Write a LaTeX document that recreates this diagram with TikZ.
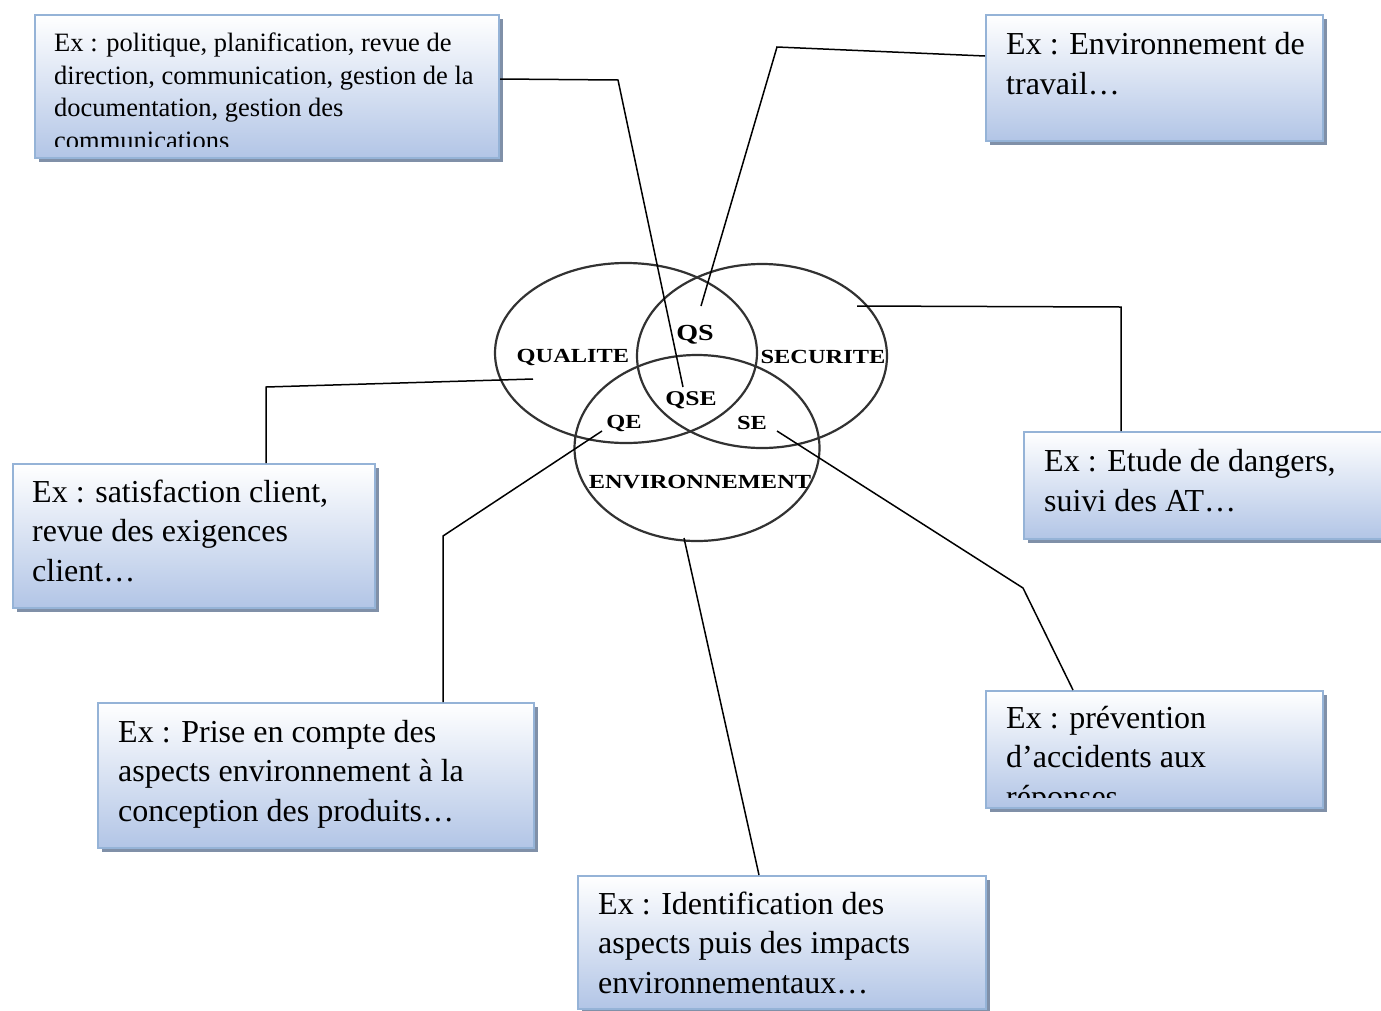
\documentclass[tikz,border=0pt]{standalone}
\usepackage{fontspec}
\setmainfont{Liberation Serif}
\usepackage{xcolor}
\usetikzlibrary{shapes.geometric,shadows}
\definecolor{boxline}{RGB}{149,179,215}
\definecolor{boxfill}{RGB}{178,197,230}
\definecolor{boxshadow}{RGB}{128,144,168}
\definecolor{ringgray}{RGB}{50,50,50}
\tikzset{
  exbox/.style={draw=boxline, line width=2pt, top color=white, bottom color=boxfill,
    anchor=north west, inner sep=0pt,
    drop shadow={shadow xshift=4pt, shadow yshift=-4pt, fill=boxshadow, opacity=1}},
  extext/.style={anchor=base west, inner sep=0pt, align=left, font=\fontsize{32}{39.5}\selectfont},
  smalltext/.style={extext, font=\fontsize{26.5}{32.5}\selectfont},
  ring/.style={ellipse, draw=ringgray, line width=2.2pt, inner sep=0pt},
  zone/.style={inner sep=0pt, xscale=1.22, font=\fontsize{20}{24}\selectfont\bfseries},
  link/.style={draw=black, line width=1.5pt},
}

\begin{document}
\begin{tikzpicture}[x=1pt, y=-1pt]
\clip (0,0) rectangle (1381,1010);
% Venn
\node[ring, minimum width=262, minimum height=180] (qualite) at (626,353) {};
\node[ring, minimum width=250, minimum height=184] (securite) at (762,356) {};
\node[ring, minimum width=245, minimum height=186] (environ) at (697,448) {};
\node[zone] (qlabel) at (573,357) {QUALITE};
\node[zone] (slabel) at (823,357) {SECURITE};
\node[zone] (elabel) at (700,482) {ENVIRONNEMENT};
\node[zone, font=\fontsize{23}{26}\selectfont\bfseries] (qs) at (695,335) {QS};
\node[zone, font=\fontsize{21}{24}\selectfont\bfseries] (qse) at (691,400) {QSE};
\node[zone] (qe) at (624,423) {QE};
\node[zone] (se) at (752,423) {SE};

% Boxes (text anchored at the baseline of its last line)
\node[exbox, minimum width=464, minimum height=143] (pilot) at (34,14) {};
\begin{scope}
\clip (34,14) rectangle (498,146);
\node[smalltext] (pilottxt) at (54,149) {Ex : politique, planification, revue de\\
  direction, communication, gestion de la\\ documentation, gestion des\\ communications};
\end{scope}
\node[exbox, minimum width=337, minimum height=126] (travail) at (985,14) {};
\node[extext] (travailtxt) at (1006,94) {Ex : Environnement de\\ travail\ldots};
\node[exbox, minimum width=380, minimum height=107] (dangers) at (1023,431) {};
\node[extext] (dangerstxt) at (1044,511) {Ex : Etude de dangers,\\ suivi des AT\ldots};
\node[exbox, minimum width=362, minimum height=144] (client) at (12,463) {};
\node[extext] (clienttxt) at (32,581) {Ex : satisfaction client,\\ revue des exigences\\ client\ldots};
\node[exbox, minimum width=436, minimum height=145] (conception) at (97,702) {};
\node[extext] (conceptiontxt) at (118,821) {Ex : Prise en compte des\\
  aspects environnement à la\\ conception des produits\ldots};
\node[exbox, minimum width=337, minimum height=117] (reponses) at (985,690) {};
\begin{scope}
\clip (985,690) rectangle (1322,797);
\node[extext] (reponsestxt) at (1006,807) {Ex : prévention\\ d’accidents aux\\ réponses};
\end{scope}
\node[exbox, minimum width=408, minimum height=133] (impacts) at (577,875) {};
\node[extext] (impactstxt) at (598,993) {Ex : Identification des\\
  aspects puis des impacts\\ environnementaux\ldots};

% Connectors
\coordinate (qseend) at (683,387);
\coordinate (qsend) at (701,306);
\coordinate (send) at (857,306);
\coordinate (qend) at (533,379);
\coordinate (qeend) at (602,431);
\coordinate (seend) at (777,431);
\coordinate (eend) at (684,538);
\draw[link] ([yshift=7.5pt]pilot.east) -- (618,80) -- (qseend);
\draw[link] ([yshift=22pt]travail.west) -- (777,47) -- (qsend);
\draw[link] (send) -- (1121,307) -- ([xshift=98pt]dangers.north west);
\draw[link] (qend) -- (266,387) -- ([xshift=254pt]client.north west);
\draw[link] (qeend) -- (443,536) -- ([xshift=346pt]conception.north west);
\draw[link] (seend) -- (1023,588) -- ([xshift=88pt]reponses.north west);
\draw[link] (eend) -- ([xshift=182pt]impacts.north west);
\end{tikzpicture}
\end{document}
